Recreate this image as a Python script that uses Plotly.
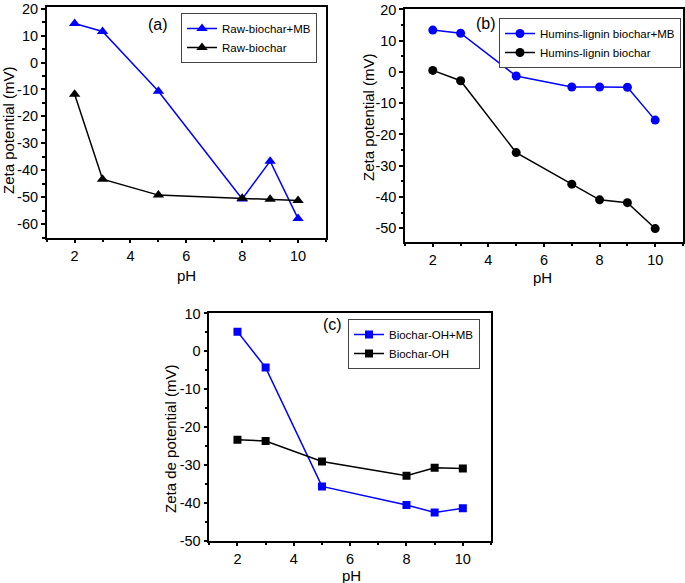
import plotly.graph_objects as go

# ---- data ----
ph_a = [2, 3, 5, 8, 9, 10]
raw_biochar_mb = [14.5, 11.5, -10.7, -50.6, -36.6, -57.9]
raw_biochar = [-11.8, -43.3, -49.2, -50.4, -50.7, -51.2]

ph_b = [2, 3, 5, 7, 8, 9, 10]
humins_mb = [13.4, 12.4, -1.3, -4.8, -4.8, -4.9, -15.4]
humins = [0.5, -2.8, -25.8, -35.9, -40.9, -41.8, -50.1]

ph_c = [2, 3, 5, 8, 9, 10]
biochar_oh_mb = [5.2, -4.3, -35.7, -40.6, -42.6, -41.5]
biochar_oh = [-23.4, -23.7, -29.1, -32.9, -30.8, -31.0]

# tick values / labels
x_ticks = [2, 4, 6, 8, 10]
y_ticks_a = [20, 10, 0, -10, -20, -30, -40, -50, -60]
y_ticks_b = [20, 10, 0, -10, -20, -30, -40, -50]
y_ticks_c = [10, 0, -10, -20, -30, -40, -50]

W, H = 685, 583
BLUE = "#0000ff"
BLACK = "#000000"
FONT = "Liberation Sans, Arial, sans-serif"


def px_x(v):
    return v / W


def px_y(v):
    return 1 - v / H


fig = go.Figure()


def add(x, y, name, color, symbol, size, xa, ya, leg):
    fig.add_trace(go.Scatter(
        x=x, y=y, name=name, mode="lines+markers",
        line=dict(color=color, width=1.5),
        marker=dict(color=color, symbol=symbol, size=size),
        xaxis=xa, yaxis=ya, legend=leg,
    ))


add(ph_a, raw_biochar_mb, "Raw-biochar+MB", BLUE, "triangle-up", 10, "x", "y", "legend")
add(ph_a, raw_biochar, "Raw-biochar", BLACK, "triangle-up", 10, "x", "y", "legend")
add(ph_b, humins_mb, "Humins-lignin biochar+MB", BLUE, "circle", 9, "x2", "y2", "legend2")
add(ph_b, humins, "Humins-lignin biochar", BLACK, "circle", 9, "x2", "y2", "legend2")
add(ph_c, biochar_oh_mb, "Biochar-OH+MB", BLUE, "square", 8, "x3", "y3", "legend3")
add(ph_c, biochar_oh, "Biochar-OH", BLACK, "square", 8, "x3", "y3", "legend3")


def axis(domain, rng, ticks, minor_dtick, anchor):
    return dict(
        domain=domain, range=rng, anchor=anchor,
        showline=True, linecolor="black", linewidth=1.5, mirror=True,
        ticks="outside", ticklen=4, tickwidth=1.5, tickcolor="black",
        tickmode="array", tickvals=ticks, ticktext=[str(t) for t in ticks],
        minor=dict(ticks="outside", ticklen=2.5, tickwidth=1.5,
                   tickcolor="black", dtick=minor_dtick, tick0=0),
        showgrid=False, zeroline=False, automargin=False,
        tickfont=dict(family=FONT, size=14.5, color="black"),
    )


def legend(xr, yt):
    return dict(
        x=px_x(xr), y=px_y(yt), xanchor="right", yanchor="top",
        bgcolor="white", bordercolor="#444444", borderwidth=1,
        font=dict(family=FONT, size=11.5, color="black"),
        itemwidth=30, traceorder="normal", tracegroupgap=0,
    )


fig.update_layout(
    width=W, height=H,
    margin=dict(l=0, r=0, t=0, b=0),
    paper_bgcolor="white", plot_bgcolor="white",
    font=dict(family=FONT, color="black"),
    xaxis=axis([px_x(46.7), px_x(326)], [1, 11], x_ticks, 1, "y"),
    yaxis=axis([px_y(237.7), px_y(7)], [-65, 20.6], y_ticks_a, 5, "x"),
    xaxis2=axis([px_x(405), px_x(683)], [1, 11], x_ticks, 1, "y2"),
    yaxis2=axis([px_y(241.7), px_y(9.3)], [-54.3, 20.05], y_ticks_b, 5, "x2"),
    xaxis3=axis([px_x(209.3), px_x(491)], [1, 11], x_ticks, 1, "y3"),
    yaxis3=axis([px_y(540.7), px_y(313.3)], [-50.05, 10.05], y_ticks_c, 5, "x3"),
    legend=legend(317, 13),
    legend2=legend(681, 18),
    legend3=legend(480, 319),
    showlegend=True,
)

annos = [
    ("(a)", 158, 24, 0, 16),
    ("(b)", 486, 23, 0, 16),
    ("(c)", 332, 325, 0, 16),
    ("pH", 186, 275, 0, 15),
    ("pH", 542, 277, 0, 15),
    ("pH", 351, 575, 0, 15),
    ("Zeta potential (mV)", 8, 130, -90, 15),
    ("Zeta potential (mV)", 368, 117, -90, 15),
    ("Zeta de potential (mV)", 170, 439, -90, 15),
]
for text, x, y, ang, sz in annos:
    fig.add_annotation(
        text=text, x=px_x(x), y=px_y(y), xref="paper", yref="paper",
        xanchor="center", yanchor="middle", showarrow=False, textangle=ang,
        font=dict(family=FONT, size=sz, color="black"),
    )

fig.write_html(
    "out.html",
    config={"displayModeBar": False},
    post_script="document.body.style.margin='0';document.body.style.overflow='hidden';",
)
